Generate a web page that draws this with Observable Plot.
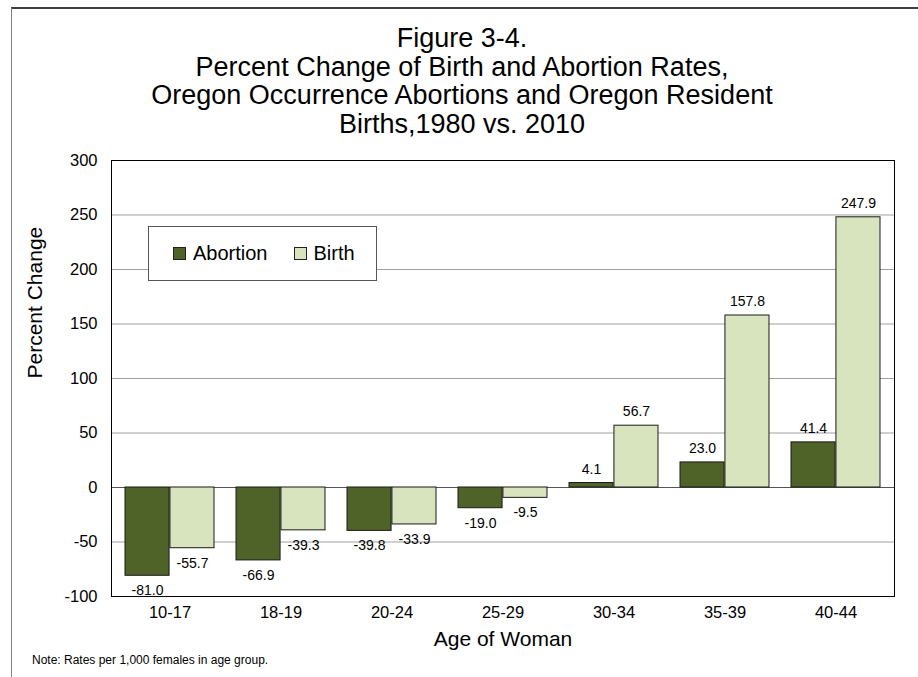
<!DOCTYPE html>
<html>
<head>
<meta charset="utf-8">
<script src="https://cdn.jsdelivr.net/npm/d3@7"></script>
<script src="https://cdn.jsdelivr.net/npm/@observablehq/plot@0.6"></script>
<style>
  body { margin: 0; background: #fff; font-family: "Liberation Sans", Arial, sans-serif; }
  #wrap { position: relative; width: 918px; height: 677px; overflow: hidden; }
  #border { position: absolute; left: 11px; top: 7px; width: 920px; height: 700px;
            border-top: 2px solid #404040; border-left: 1px solid #808080; }
  #title { position: absolute; left: 11px; width: 902px; top: 24px; text-align: center;
           font-size: 27px; line-height: 28.5px; color: #000; }
  #chart { position: absolute; left: 0; top: 0; }
  #legend { position: absolute; left: 148px; top: 226px; width: 229px; height: 55px;
            border: 1px solid #555; background: #fff; display: flex; align-items: center;
            font-size: 20px; color: #000; box-sizing: border-box; padding-left: 24px; }
  .sw { width: 11px; height: 11px; border: 1px solid #222; margin-right: 7px; }
  .item { display: flex; align-items: center; margin-right: 26px; }
  #note { position: absolute; left: 32px; top: 652px; font-size: 12px; line-height: 16px; color: #000; }
</style>
</head>
<body>
<div id="wrap">
  <div id="border"></div>
  <div id="chart"></div>
  <div id="title">Figure 3-4.<br>Percent Change of Birth and Abortion Rates,<br>Oregon Occurrence Abortions and Oregon Resident<br>Births,1980 vs. 2010</div>
  <div id="legend"></div>
  <div id="note">Note: Rates per 1,000 females in age group.</div>
</div>
<script>
// ---- data ----
const ages = ["10-17", "18-19", "20-24", "25-29", "30-34", "35-39", "40-44"];
const abortion = [-81.0, -66.9, -39.8, -19.0, 4.1, 23.0, 41.4];
const birth = [-55.7, -39.3, -33.9, -9.5, 56.7, 157.8, 247.9];
const seriesNames = ["Abortion", "Birth"];
const seriesColors = ["#4f6228", "#d7e4bd"];
const yTicks = [-100, -50, 0, 50, 100, 150, 200, 250, 300];
const gridTicks = [-50, 50, 100, 150, 200, 250];
const xTitle = "Age of Woman";
const yTitle = "Percent Change";

// ---- layout ----
const W = 918, H = 677, ML = 111, MR = 24, MT = 160, MB = 81;
const bw = (W - ML - MR) / ages.length;
const pad = 11;
const barW = (bw - 2 * pad) / 2;
const off = pad + barW / 2 - bw / 2;

const values = [abortion, birth];
const marks = [
  Plot.ruleY(gridTicks, {stroke: "#a0a0a0", strokeWidth: 1}),
  Plot.ruleY([0], {stroke: "#555", strokeWidth: 1})
];
seriesNames.forEach((s, k) => {
  const rows = ages.map((a, i) => ({age: a, value: values[k][i]}));
  marks.push(Plot.barY(rows, {
    x: "age", y1: 0, y2: "value", fill: seriesColors[k], stroke: "#1a1a1a", strokeWidth: 1,
    insetLeft: k === 0 ? pad : pad + barW, insetRight: k === 0 ? pad + barW : pad
  }));
  const dx = k === 0 ? off : -off;
  marks.push(Plot.text(rows.filter(d => d.value >= 0), {
    x: "age", y: "value", text: d => d.value.toFixed(1), dx, dy: -14, fontSize: 14, fill: "#000"
  }));
  marks.push(Plot.text(rows.filter(d => d.value < 0), {
    x: "age", y: "value", text: d => d.value.toFixed(1), dx, dy: 15, fontSize: 14, fill: "#000"
  }));
});
marks.push(Plot.frame({stroke: "#000", strokeWidth: 1}));
marks.push(Plot.text([yTitle], {text: d => d, frameAnchor: "left", dx: -76, rotate: -90, fontSize: 21, fill: "#000"}));
marks.push(Plot.text([xTitle], {text: d => d, frameAnchor: "bottom", dy: 49, fontSize: 21, fill: "#000"}));

const chart = Plot.plot({
  width: W, height: H,
  marginLeft: ML, marginRight: MR, marginTop: MT, marginBottom: MB,
  style: {fontFamily: '"Liberation Sans", Arial, sans-serif', fontSize: "16.5px", background: "transparent", color: "#000", overflow: "visible"},
  x: {type: "band", domain: ages, padding: 0, tickSize: 0, tickPadding: 10, label: null},
  y: {domain: [-100, 300], ticks: yTicks, tickSize: 0, tickPadding: 14, tickFormat: d => String(d), label: null},
  marks
});
document.getElementById("chart").appendChild(chart);

// legend
const leg = document.getElementById("legend");
seriesNames.forEach((s, k) => {
  const it = document.createElement("div");
  it.className = "item";
  const sw = document.createElement("div");
  sw.className = "sw";
  sw.style.background = seriesColors[k];
  const t = document.createElement("span");
  t.textContent = s;
  it.appendChild(sw); it.appendChild(t);
  leg.appendChild(it);
});
</script>
</body>
</html>
